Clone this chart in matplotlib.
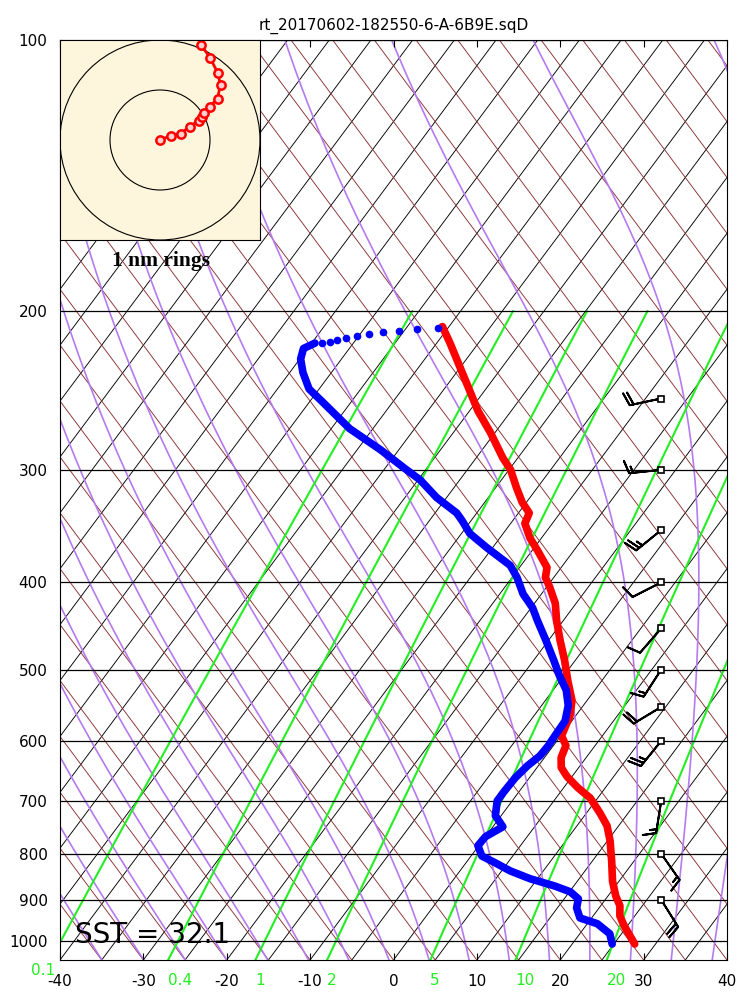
import numpy as np
import matplotlib
matplotlib.use("Agg")
import matplotlib.pyplot as plt
from matplotlib.patches import Circle
from matplotlib.ticker import NullLocator
import matplotlib.transforms as mtransforms

# ─────────────────────────────────────────────
# Sounding data
# ─────────────────────────────────────────────
TITLE = "rt_20170602-182550-6-A-6B9E.sqD"
SST   = 32.1

temp_p = [208, 217, 231, 245, 258, 273, 291, 300, 314, 326, 335, 344, 357, 369,
          385, 395, 405, 422, 441, 464, 488, 514, 541, 562, 592, 607, 626, 642,
          657, 676, 694, 721, 745, 774, 815, 858, 891, 914, 938, 962, 987, 1008]
temp_c = [-50.8, -48.4, -45.0, -41.8, -39.0, -35.5, -31.8, -29.8, -27.5, -25.5,
          -23.7, -23.3, -21.4, -19.3, -16.7, -16.0, -14.6, -12.5, -10.8, -8.6,
          -6.3, -4.1, -1.8, -0.7, 0.1, 1.5, 2.0, 2.9, 4.4, 6.7, 9.1, 11.6, 13.6,
          15.3, 17.3, 19.2, 20.9, 22.3, 23.2, 24.6, 26.2, 27.5]

dewp_p = [217, 220, 226, 234, 244, 252, 270, 285, 299, 308, 322, 335, 342, 353,
          366, 383, 395, 412, 427, 441, 464, 488, 508, 527, 548, 570, 592, 607,
          623, 639, 659, 681, 699, 726, 747, 766, 784, 805, 819, 836, 853, 869,
          882, 898, 919, 943, 957, 982, 1008]
dewp_c = [-64.6, -65.5, -64.9, -63.4, -61.2, -58.5, -52.8, -47.2, -42.6, -39.7,
          -36.2, -32.4, -31.0, -29.0, -25.7, -21.3, -19.4, -17.2, -14.8, -13.1,
          -10.3, -7.6, -5.5, -3.4, -1.8, -0.8, -0.7, -0.6, -0.7, -1.3, -1.7,
          -1.8, -1.8, -0.7, 1.2, 0.0, -0.1, 1.3, 3.5, 6.0, 9.1, 12.7, 15.1, 16.7,
          17.3, 18.6, 21.2, 23.6, 24.8]

# sparse dew point points near the top
dots_p = [217.1, 216.6, 215.4, 214.3, 213.3, 212.2, 211.1, 210.5, 209.5, 208.9]
dots_c = [-63.7, -62.9, -62.2, -61.3, -60.2, -58.9, -57.4, -55.6, -53.6, -51.2]

# wind barbs (direction from, speed kt)
barb_p   = [250, 300, 350, 400, 450, 500, 550, 600, 700, 800, 900]
barb_dir = [258, 264, 231, 243, 221, 213, 239, 219, 189, 145, 148]
barb_spd = [20, 15, 25, 10, 10, 15, 20, 25, 15, 15, 20]

# sonde drift track (nm east / north)
hodo_x = [0.0, 0.22, 0.41, 0.60, 0.77, 0.83, 0.88, 1.00, 1.15, 1.21, 1.15, 1.00, 0.82]
hodo_y = [0.0, 0.09, 0.13, 0.27, 0.39, 0.47, 0.55, 0.67, 0.83, 1.11, 1.35, 1.65, 1.90]

# background line families
isobars     = [100, 200, 300, 400, 500, 600, 700, 800, 900, 1000]
isotherms   = np.arange(-130, 45, 5)
dry_lines   = np.arange(-40, 130, 5)
moist_thw_k = np.arange(230, 325, 5)
mix_ratios  = [0.1, 0.4, 1, 2, 5, 10, 20]
mix_labels  = ["0.1", "0.4", "1", "2", "5", "10", "20"]
xticks      = np.arange(-40, 41, 10)


# ─────────────────────────────────────────────
# Skew-T helpers
# ─────────────────────────────────────────────
P_BOT, P_TOP = 1050.0, 100.0
SKEW = 35.0


def skx(T, p):
    return np.asarray(T, float) + SKEW * np.log(P_BOT / np.asarray(p, float))


def dewpoint_from_e(e):
    a = np.log(e / 6.112)
    return 243.12 * a / (17.62 - a)


def moist_profiles(thw_k, p_grid):
    Rd, Cp, Lv, eps = 287.04, 1005.7, 2.501e6, 0.622

    def dtdp(T, p):
        es = 6.112 * np.exp(17.67 * (T - 273.15) / (T - 29.65))
        rs = eps * es / (p - es)
        return (Rd * T + Lv * rs) / (Cp + Lv ** 2 * rs * eps / (Rd * T ** 2)) / p

    T = np.asarray(thw_k, float)
    out = [T.copy()]
    for p0, p1 in zip(p_grid[:-1], p_grid[1:]):
        h = p1 - p0
        k1 = dtdp(T, p0)
        k2 = dtdp(T + 0.5 * h * k1, p0 + 0.5 * h)
        k3 = dtdp(T + 0.5 * h * k2, p0 + 0.5 * h)
        k4 = dtdp(T + h * k3, p1)
        T = T + h / 6 * (k1 + 2 * k2 + 2 * k3 + k4)
        out.append(T.copy())
    return np.array(out) - 273.15


# ─────────────────────────────────────────────
# Figure
# ─────────────────────────────────────────────
fig = plt.figure(figsize=(7.5, 10), dpi=100)
ax = fig.add_axes([60 / 750, 40 / 1000, 667 / 750, 920 / 1000])
ax.set_yscale("log")
ax.set_ylim(P_BOT, P_TOP)
ax.set_xlim(-40, 40)

# isobars
for p in isobars:
    ax.axhline(p, color="black", lw=0.9, zorder=2)

# isotherms (up-right) and the mirrored down-right family
pp = np.array([P_BOT, P_TOP])
for t in isotherms:
    ax.plot(skx(t, pp), pp, color="black", lw=0.65, zorder=1)
for c in dry_lines:
    ax.plot(c - SKEW * np.log(P_BOT / pp), pp, color="#8a3030", lw=0.65, zorder=1)

# moist adiabats
p_up = np.linspace(1000, 100, 361)
p_dn = np.linspace(1000, 1050, 21)
Tup = moist_profiles(moist_thw_k, p_up)
Tdn = moist_profiles(moist_thw_k, p_dn)
pm = np.concatenate([p_dn[::-1], p_up[1:]])
for i in range(len(moist_thw_k)):
    tm = np.concatenate([Tdn[::-1, i], Tup[1:, i]])
    ax.plot(skx(tm, pm), pm, color="#b57af0", lw=1.2, zorder=1)

# mixing ratio lines
pw = np.geomspace(P_BOT, 200, 40)
lab_tr = mtransforms.blended_transform_factory(ax.transData, ax.transAxes)
for w, lab in zip(mix_ratios, mix_labels):
    e = w * pw / (622.0 + w)
    td = dewpoint_from_e(e)
    ax.plot(skx(td, pw), pw, color="#22ee22", lw=1.5, zorder=1)
    x0 = skx(td[0], pw[0])
    if w == 0.1:
        ax.text(x0 + 0.5, -0.011, lab, transform=lab_tr, color="#22ee22",
                ha="right", va="center", fontsize=11, clip_on=False)
    else:
        ax.text(x0, -0.022, lab, transform=lab_tr, color="#22ee22",
                ha="left", va="center", fontsize=11, clip_on=False)

# temperature / dew point
ax.plot(skx(temp_c, temp_p), temp_p, color="red", lw=5.5,
        solid_capstyle="round", solid_joinstyle="round", zorder=4)
ax.plot(skx(dewp_c, dewp_p), dewp_p, color="blue", lw=5.5,
        solid_capstyle="round", solid_joinstyle="round", zorder=4)
ax.plot(skx(dots_c, dots_p), dots_p, "o", color="blue", ms=4.5, zorder=4)

# wind barbs
bd = np.radians(barb_dir)
bs = np.asarray(barb_spd, float)
u = -bs * np.sin(bd)
v = -bs * np.cos(bd)
bx = np.full(len(barb_p), 32.1)
ax.barbs(bx, barb_p, u, v, length=6.8, color="black", lw=1.4, zorder=5)
ax.plot(bx, barb_p, "s", ms=5, mfc="white", mec="black", mew=1.2, zorder=6)

# SST
ax.text(0.0225, 0.0185, f"SST = {SST}", transform=ax.transAxes,
        fontsize=20, va="baseline", ha="left", zorder=6)

# axes cosmetics
ax.set_xticks(xticks)
ax.set_xticklabels([str(t) for t in xticks])
ax.tick_params(axis="x", direction="in", length=5, top=True, labelsize=11, pad=10)
ax.set_yticks(isobars)
ax.set_yticklabels([str(p) for p in isobars])
ax.yaxis.set_minor_locator(NullLocator())
ax.tick_params(axis="y", length=0, labelsize=11, pad=9)
ax.set_title(TITLE, fontsize=11, pad=7)

# ─────────────────────────────────────────────
# Hodograph / drift inset
# ─────────────────────────────────────────────
hax = fig.add_axes([60 / 750, 1 - 240 / 1000, 200 / 750, 200 / 1000])
hax.set_facecolor("#fdf6dc")
hax.set_xlim(-2, 2)
hax.set_ylim(-2, 2)
hax.set_xticks([])
hax.set_yticks([])
for r in (1, 2):
    hax.add_patch(Circle((0, 0), r, fill=False, color="black", lw=0.8))
hax.plot(hodo_x, hodo_y, "-o", color="red", lw=2, ms=6, mfc="#ffd0d0",
         mec="red", mew=1.8)
fig.text(161 / 750, 1 - 261 / 1000, "1 nm rings", ha="center", va="center",
         fontsize=15.5, fontweight="bold", family="Liberation Serif")

fig.savefig("out.png", dpi=100)
